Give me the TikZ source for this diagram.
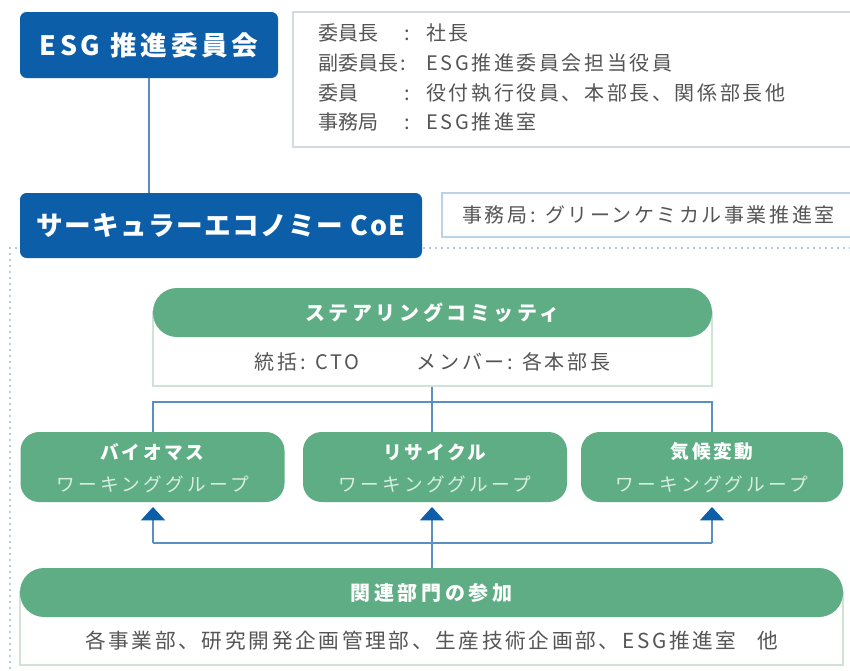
\documentclass[tikz,border=0pt]{standalone}
\usepackage{fontspec}
\newfontfamily\jp[LetterSpace=13]{Noto Sans CJK JP}
\newfontfamily\jpn{Noto Sans CJK JP}
\newfontfamily\jpb[LetterSpace=14]{Noto Sans CJK JP}
\newfontfamily\jps[LetterSpace=18]{Noto Sans CJK JP}
\newfontfamily\jph[LetterSpace=18]{Noto Sans CJK JP}
\newfontfamily\jpc[LetterSpace=5]{Noto Sans CJK JP}
\usetikzlibrary{arrows.meta,calc}
\definecolor{esgblue}{HTML}{0C5EA8}
\definecolor{esggreen}{HTML}{5EAD84}
\definecolor{lineblue}{HTML}{5A8FC4}
\definecolor{txtgray}{HTML}{555555}
\definecolor{boxgray}{HTML}{D3DAE0}
\definecolor{boxblue}{HTML}{B9D3E8}
\definecolor{boxgreen}{HTML}{CFE3D7}
\definecolor{subgreen}{HTML}{D9EEE0}
\definecolor{dotblue}{HTML}{6F97BD}
\tikzset{
  bluebox/.style={fill=esgblue, draw=none, rounded corners=5pt, text=white, font=\jpb\bfseries\fontsize{20}{24}\selectfont, inner sep=0pt},
  greenhead/.style={fill=esggreen, draw=none, rounded corners=18pt, text=white, font=\jph\bfseries\fontsize{15}{18}\selectfont, inner sep=0pt},
  wgbox/.style={fill=esggreen, draw=none, rounded corners=14pt, inner sep=0pt},
  whitebody/.style={fill=white, draw=boxgreen, line width=0.9pt, inner sep=0pt},
  graytext/.style={text=txtgray, font=\jp\fontsize{15}{18}\selectfont, inner sep=0pt},
  labeltext/.style={text=txtgray, font=\jpn\fontsize{15}{18}\selectfont, inner sep=0pt},
  conn/.style={draw=lineblue, line width=1.1pt},
  uparrow/.style={conn, -{Triangle[width=18pt,length=10pt,color=esgblue]}},
  dotline/.style={draw=dotblue, line width=1.4pt, dash pattern=on 0pt off 4.5pt, line cap=round}
}
\begin{document}
\begin{tikzpicture}[x=0.75pt,y=-0.75pt]
\clip (0,0) rectangle (850,671);
\fill[white] (0,0) rectangle (850,671);

% dotted frame
\draw[dotline] (850,248) -- (10,248) -- (10,680);

% ESG committee
\node[bluebox, minimum width=193.5pt, minimum height=49.5pt] (esg) at (149,45) {ESG 推進委員会};

% info box
\draw[draw=boxgray, line width=1.5pt, fill=white] (293,12) rectangle (870,147);
\begin{scope}[every node/.style={labeltext, anchor=base west}]
\node (l1) at (318,40) {委員長};   \node (c1) at (404,40) {:};
\node (l2) at (318,70) {副委員長}; \node (c2) at (400,70) {:};
\node (l3) at (318,100) {委員};    \node (c3) at (404,100) {:};
\node (l4) at (318,129) {事務局};  \node (c4) at (404,129) {:};
\end{scope}
\begin{scope}[every node/.style={graytext, anchor=base west}]
\node (v1) at (426,40) {社長};
\node (v2) at (426,70) {ESG推進委員会担当役員};
\node (v3) at (426,100) {役付執行役員、本部長、関係部長他};
\node (v4) at (426,129) {ESG推進室};
\end{scope}

% CoE
\node[bluebox, font=\jpc\bfseries\fontsize{20}{24}\selectfont, minimum width=301.5pt, minimum height=48.75pt] (coe) at (221,225.5) {サーキュラーエコノミー CoE};
\draw[conn] (esg.south) -- (esg.south |- coe.north);

% secretariat
\draw[draw=boxblue, line width=1.5pt, fill=white] (442,193) rectangle (870,237);
\node[graytext, anchor=west] (sec) at (462,215) {事務局: グリーンケミカル事業推進室};

% steering committee
\node[whitebody, minimum width=419.25pt, minimum height=55.5pt] (scbody) at (432.5,349) {};
\node[greenhead, minimum width=419.25pt, minimum height=36.75pt] (sc) at (432.5,312.5) {ステアリングコミッティ};
\node[graytext] (scm) at (432.5,362) {統括: CTO\hspace{2.9em}メンバー: 各本部長};

% working groups
\node[wgbox, minimum width=198pt, minimum height=52.5pt] (wg1) at (152.5,467) {};
\node[wgbox, minimum width=198pt, minimum height=52.5pt] (wg2) at (435,467) {};
\node[wgbox, minimum width=196.5pt, minimum height=52.5pt] (wg3) at (712,467) {};
\foreach \n/\t in {wg1/バイオマス, wg2/リサイクル, wg3/気候変動}{
  \node[text=white, font=\jpb\bfseries\fontsize{14}{16}\selectfont, inner sep=0pt] at ($(\n.center)+(0,-15)$) {\t};
  \node[text=subgreen, font=\jps\fontsize{14}{16}\selectfont, inner sep=0pt] at ($(\n.center)+(0,17)$) {ワーキンググループ};
}

% related departments
\node[whitebody, minimum width=617.25pt, minimum height=54.75pt] (rdbody) at (431.5,628.5) {};
\node[greenhead, minimum width=617.25pt, minimum height=36.75pt] (rd) at (431.5,592.5) {関連部門の参加};
\node[graytext, font=\jp\fontsize{15.5}{18}\selectfont] (rdm) at (431.5,641) {各事業部、研究開発企画管理部、生産技術企画部、ESG推進室\hspace{1em}他};

% connectors steering -> WGs
\coordinate (br) at (432,402);
\draw[conn] (scbody.south -| br) -- (wg2.north -| br);
\draw[conn] (wg1.north -| 153,0) -- (153,402) -- (712,402) -- (wg3.north -| 712,0);

% arrows from related departments
\draw[uparrow] (rd.north -| br) -- (432,507);
\draw[conn] (153,543) -- (712,543);
\draw[uparrow] (153,543) -- (153,507);
\draw[uparrow] (712,543) -- (712,507);
\end{tikzpicture}
\end{document}
